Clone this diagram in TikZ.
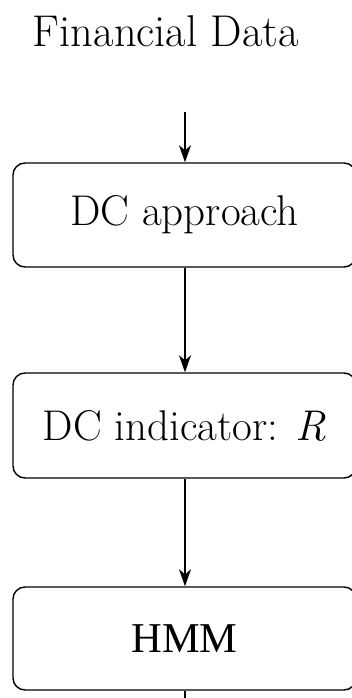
\documentclass[tikz,border=0pt]{standalone}
\usepackage{fontspec}
\newfontfamily\timesfont{Liberation Serif}
\usetikzlibrary{arrows.meta}
\begin{document}
\begin{tikzpicture}[x=1pt,y=-1pt,
  procbox/.style={draw, line width=1.4pt, rounded corners=12pt,
    minimum width=343pt, minimum height=104pt, inner sep=0pt,
    font=\fontsize{43}{51}\selectfont},
  flow/.style={line width=1.4pt, -{Stealth[length=17pt,width=12pt,inset=5pt]}}]
\useasboundingbox (0,0) rectangle (352,698);
\node[anchor=base, font=\fontsize{44.5}{53}\selectfont, inner sep=0pt] (title) at (166,47) {Financial Data};
\coordinate (in) at (185,112);
\node[procbox] (dc) at (184.5,215) {DC approach};
\node[procbox, minimum height=105pt] (ind) at (184.5,425.5) {DC indicator: \textit{R}};
\node[procbox, minimum height=103pt, font=\fontsize{42.5}{51}\timesfont] (hmm) at (184.5,638.5) {HMM};
\coordinate (out) at (185,705);
\draw[flow] (in) -- (in |- dc.north);
\draw[flow] (in |- dc.south) -- (in |- ind.north);
\draw[flow] (in |- ind.south) -- (in |- hmm.north);
\draw[line width=1.4pt] (in |- hmm.south) -- (out);
\end{tikzpicture}
\end{document}
